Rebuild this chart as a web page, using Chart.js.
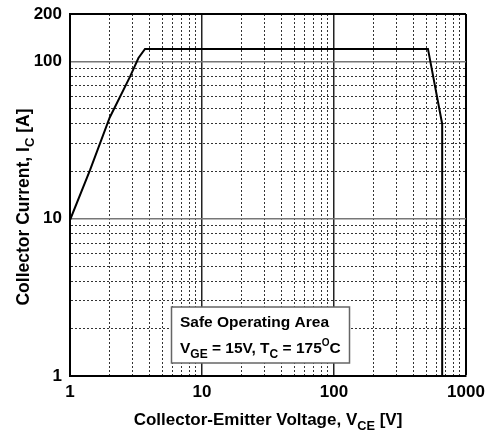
<!DOCTYPE html>
<html>
<head>
<meta charset="utf-8">
<script src="https://cdn.jsdelivr.net/npm/chart.js@4"></script>
<style>
  html, body { margin: 0; padding: 0; background: #fff; }
  #wrap { width: 489px; height: 432px; }
</style>
</head>
<body>
<div id="wrap"><canvas id="canvas" width="489" height="432"></canvas></div>
<script>
// SOA curve
let vce = [1, 1.42, 2.0, 2.85, 3.3, 3.7, 515, 660, 660];
let ic = [9.8, 20.4, 44, 80, 105, 120, 120, 40, 1];

let xTicks = [1, 2, 3, 4, 5, 6, 7, 8, 9, 10, 20, 30, 40, 50, 60, 70, 80, 90, 100, 200, 300, 400, 500, 600, 700, 800, 900, 1000];
let yTicks = [1, 2, 3, 4, 5, 6, 7, 8, 9, 10, 20, 30, 40, 50, 60, 70, 80, 90, 100, 200];
let xLabels = [1, 10, 100, 1000];
let yLabels = [1, 10, 100, 200];

const FONT = "'Liberation Sans', Arial, sans-serif";

function isDecade(v) {
  return v === 1 || v === 10 || v === 100 || v === 1000;
}

// draws text with a subscript part, centred at 0,0 of current transform
function subText(ctx, parts, size) {
  let w = 0;
  parts.forEach(p => {
    ctx.font = "bold " + (p.sub ? size * 0.75 : size) + "px " + FONT;
    p.w = ctx.measureText(p.t).width;
    w += p.w;
  });
  let x = -w / 2;
  parts.forEach(p => {
    ctx.font = "bold " + (p.sub ? size * 0.75 : size) + "px " + FONT;
    ctx.fillText(p.t, x, p.sub ? size * 0.3 : 0);
    x += p.w;
  });
}

const labels = {
  id: "labels",
  afterDraw(chart) {
    const ctx = chart.ctx;
    const a = chart.chartArea;
    ctx.save();
    ctx.fillStyle = "#000";
    ctx.textBaseline = "alphabetic";
    ctx.textAlign = "left";

    // x title
    ctx.save();
    ctx.translate((a.left + a.right) / 2, 425);
    subText(ctx, [{ t: "Collector-Emitter Voltage, V" }, { t: "CE", sub: true }, { t: " [V]" }], 17);
    ctx.restore();

    // y title
    ctx.save();
    ctx.translate(29, 207);
    ctx.rotate(-Math.PI / 2);
    subText(ctx, [{ t: "Collector Current, I" }, { t: "C", sub: true }, { t: " [A]" }], 17.5);
    ctx.restore();

    // annotation box
    const bx = 171.5, by = 307, bw = 178, bh = 56;
    ctx.fillStyle = "#fff";
    ctx.fillRect(bx, by, bw, bh);
    ctx.strokeStyle = "#666";
    ctx.lineWidth = 1.5;
    ctx.strokeRect(bx, by, bw, bh);
    ctx.fillStyle = "#000";
    ctx.font = "bold 15.5px " + FONT;
    ctx.fillText("Safe Operating Area", 180, 327);
    let x = 180;
    const seg = [
      { t: "V", s: 15.5, dy: 0 }, { t: "GE", s: 12, dy: 5 }, { t: " = 15V, T", s: 15.5, dy: 0 },
      { t: "C", s: 12, dy: 5 }, { t: " = 175", s: 15.5, dy: 0 }, { t: "O", s: 10, dy: -7 }, { t: "C", s: 15.5, dy: 0 }
    ];
    seg.forEach(p => {
      ctx.font = "bold " + p.s + "px " + FONT;
      ctx.fillText(p.t, x, 353 + p.dy);
      x += ctx.measureText(p.t).width;
    });
    ctx.restore();
  }
};

const ctx = document.getElementById("canvas");
const myChart = new Chart(ctx, {
  type: "line",
  data: {
    datasets: [{
      data: vce.map((v, i) => ({ x: v, y: ic[i] })),
      borderColor: "#000",
      borderWidth: 2,
      pointRadius: 0,
      tension: 0,
      fill: false
    }]
  },
  options: {
    responsive: false,
    animation: false,
    layout: { padding: { top: 14, right: 23, left: 0, bottom: 0 } },
    plugins: { legend: { display: false }, tooltip: { enabled: false } },
    scales: {
      x: {
        type: "logarithmic",
        min: 1,
        max: 1000,
        afterBuildTicks: s => { s.ticks = xTicks.map(v => ({ value: v })); },
        afterFit: s => { s.height = 56; s.paddingLeft = 0; s.paddingRight = 0; },
        ticks: {
          autoSkip: false,
          maxRotation: 0,
          padding: 6,
          color: "#000",
          font: { family: FONT, size: 17, weight: "bold" },
          callback: v => xLabels.includes(v) ? String(v) : ""
        },
        grid: {
          drawTicks: false,
          color: c => {
            const v = c.tick && c.tick.value;
            if (v === 1000) return "#000";
            return isDecade(v) ? "#222" : "#333";
          },
          lineWidth: c => {
            const v = c.tick && c.tick.value;
            if (v === 1000) return 2;
            return isDecade(v) ? 1.5 : 1;
          }
        },
        border: {
          color: "#000",
          width: 2,
          dash: c => {
            const v = c.tick && c.tick.value;
            return isDecade(v) ? [] : [2, 2];
          }
        }
      },
      y: {
        type: "logarithmic",
        min: 1,
        max: 200,
        afterBuildTicks: s => { s.ticks = yTicks.map(v => ({ value: v })); },
        afterFit: s => { s.width = 70; s.paddingTop = 0; s.paddingBottom = 0; },
        ticks: {
          autoSkip: false,
          padding: 8,
          color: "#000",
          font: { family: FONT, size: 17, weight: "bold" },
          callback: v => yLabels.includes(v) ? String(v) : ""
        },
        grid: {
          drawTicks: false,
          color: c => {
            const v = c.tick && c.tick.value;
            if (v === 200) return "#000";
            return isDecade(v) ? "#777" : "#333";
          },
          lineWidth: c => {
            const v = c.tick && c.tick.value;
            if (v === 200) return 2;
            return isDecade(v) ? 1.5 : 1;
          }
        },
        border: {
          color: "#000",
          width: 2,
          dash: c => {
            const v = c.tick && c.tick.value;
            return (isDecade(v) || v === 200) ? [] : [2, 2];
          }
        }
      }
    }
  },
  plugins: [labels]
});
</script>
</body>
</html>
